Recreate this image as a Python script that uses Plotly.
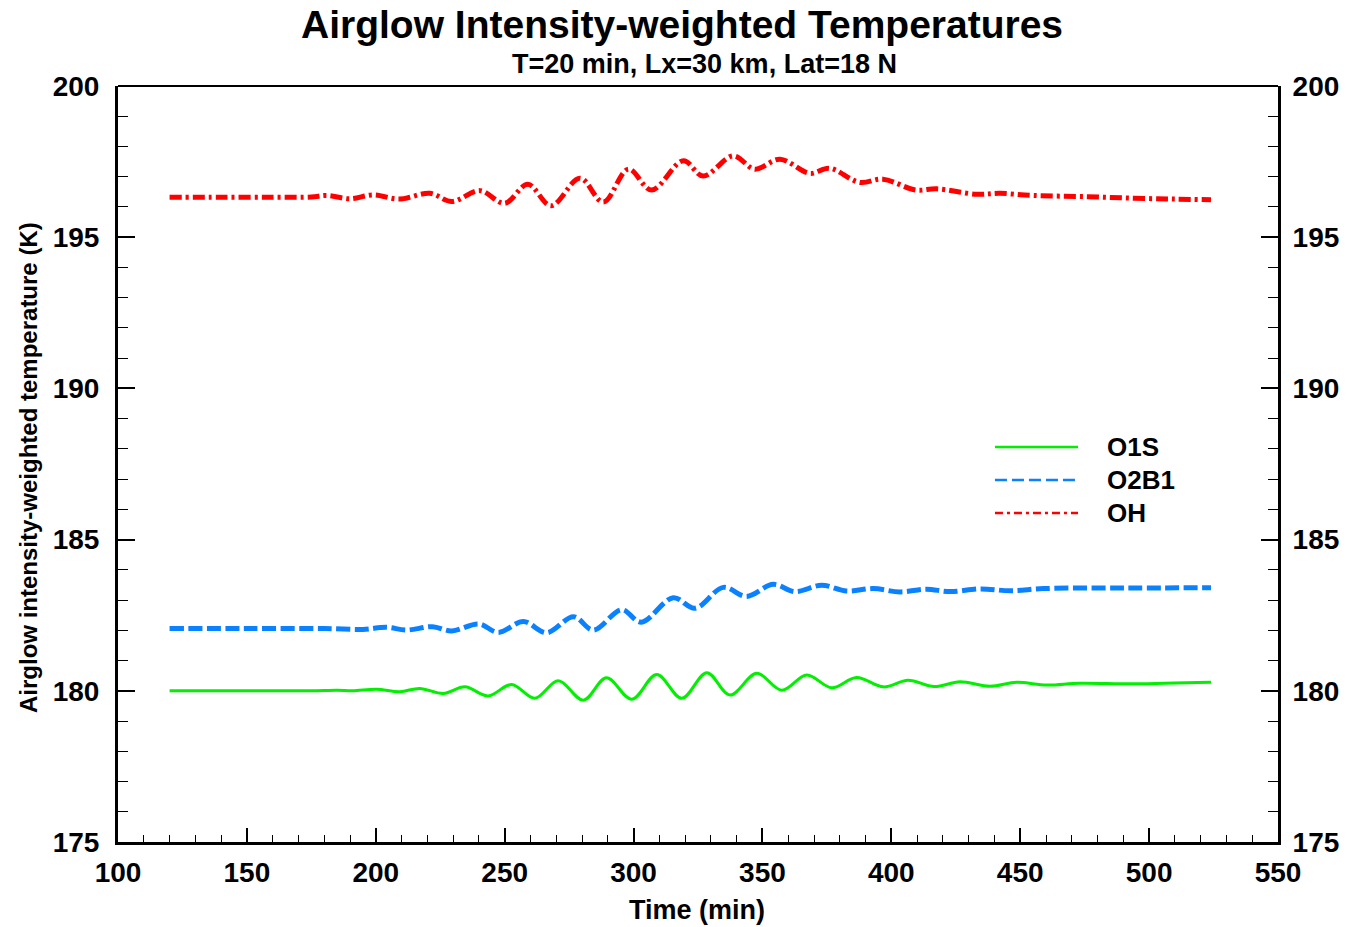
import plotly.graph_objects as go

# Time (min) and airglow intensity-weighted temperature (K) for each emission
t_o1s = [120, 150, 175, 185, 191, 200.3, 209.4, 217, 226.2, 234.6, 243.6, 252.7, 261.7,
         270.8, 280.5, 289.5, 299.3, 309, 318.7, 328.4, 337.4, 347.8, 357.5, 367.2,
         376.9, 386.5, 396.9, 406.5, 416.6, 426.6, 438.3, 448.6, 460.3, 473, 494, 524]
T_o1s = [180.0, 180.0, 180.0, 180.02, 180.0, 180.05, 179.97, 180.08, 179.91, 180.13,
         179.83, 180.21, 179.75, 180.33, 179.69, 180.43, 179.72, 180.54, 179.75, 180.60,
         179.86, 180.58, 180.02, 180.52, 180.10, 180.44, 180.13, 180.35, 180.14, 180.30,
         180.15, 180.28, 180.19, 180.25, 180.23, 180.28]

t_o2b1 = [120, 150, 180, 195, 204, 212, 222, 229.5, 240, 247.5, 257.3, 266.3, 276.7,
          284.4, 295.4, 303, 315.4, 323.8, 334.8, 343.8, 354.2, 362.6, 373, 382.6, 393,
          403.3, 413.6, 422.7, 434.5, 446, 459, 481, 500, 524]
T_o2b1 = [182.06, 182.06, 182.06, 182.03, 182.10, 182.01, 182.12, 181.98, 182.21, 181.93,
          182.29, 181.92, 182.45, 182.01, 182.68, 182.27, 183.08, 182.73, 183.42, 183.12,
          183.52, 183.28, 183.49, 183.30, 183.38, 183.27, 183.36, 183.28, 183.37, 183.31,
          183.38, 183.40, 183.40, 183.41]

t_oh = [120, 140, 160, 175, 181, 190, 199, 209, 221, 229.5, 240.4, 250, 259, 268, 279.2,
        288.3, 298, 307, 319.3, 327, 338.7, 347, 356.8, 368.4, 376, 387.8, 396.7, 409.5,
        417.6, 433, 442, 455, 476, 494, 510, 524]
T_oh = [196.32, 196.32, 196.32, 196.33, 196.38, 196.27, 196.40, 196.26, 196.45, 196.18,
        196.54, 196.12, 196.75, 196.04, 196.95, 196.16, 197.25, 196.56, 197.53, 197.02,
        197.69, 197.25, 197.58, 197.11, 197.28, 196.81, 196.92, 196.56, 196.60, 196.42,
        196.45, 196.38, 196.34, 196.29, 196.26, 196.24]

series_names = ["O1S", "O2B1", "OH"]
series_colors = ["#00F000", "#0A82FF", "#FF0000"]

x_ticks = [100, 150, 200, 250, 300, 350, 400, 450, 500, 550]
y_ticks = [175, 180, 185, 190, 195, 200]

FONT = "Liberation Sans"

fig = go.Figure()
fig.add_trace(go.Scatter(x=t_o1s, y=T_o1s, mode="lines", name=series_names[0],
                         line=dict(color=series_colors[0], width=3, shape="spline", smoothing=1)))
fig.add_trace(go.Scatter(x=t_o2b1, y=T_o2b1, mode="lines", name=series_names[1],
                         line=dict(color=series_colors[1], width=5, shape="spline", smoothing=1,
                                   dash="14px,4.5px")))
# OH is drawn against the right-hand axis, which shares the left axis' range
fig.add_trace(go.Scatter(x=t_oh, y=T_oh, mode="lines", name=series_names[2], yaxis="y2",
                         line=dict(color=series_colors[2], width=5, shape="spline", smoothing=1,
                                   dash="12px,4px,3px,4px")))

tickfont = dict(family=FONT, size=28, color="black", weight="bold")
yminor = dict(dtick=1, ticks="inside", ticklen=10, tickwidth=1.2, tickcolor="black",
              showgrid=False)

fig.update_layout(
    width=1347, height=927,
    margin=dict(l=118, r=69, t=86, b=85, autoexpand=False),
    paper_bgcolor="white", plot_bgcolor="white",
    showlegend=False,
    xaxis=dict(range=[100, 550], tickvals=x_ticks, ticks="inside", ticklen=14, tickwidth=1.5,
               tickcolor="black", showline=True, linewidth=3, linecolor="black",
               showgrid=False, zeroline=False, tickfont=tickfont, ticklabelstandoff=3,
               automargin=False,
               minor=dict(dtick=10, ticks="inside", ticklen=7, tickwidth=1.2, tickcolor="black",
                          showgrid=False)),
    yaxis=dict(range=[175, 200], tickvals=y_ticks, ticks="inside", ticklen=17, tickwidth=1.5,
               tickcolor="black", showline=True, linewidth=3, linecolor="black",
               showgrid=False, zeroline=False, tickfont=tickfont, ticklabelstandoff=10,
               automargin=False, minor=yminor),
    yaxis2=dict(range=[175, 200], matches="y", tickvals=y_ticks, overlaying="y", side="right",
                anchor="x", ticks="inside", ticklen=17, tickwidth=1.5, tickcolor="black",
                showline=True, linewidth=3, linecolor="black", showgrid=False, zeroline=False,
                tickfont=tickfont, ticklabelstandoff=6, automargin=False, minor=yminor),
)

# thin frame line along the top of the plot area
fig.add_shape(type="line", xref="paper", yref="paper", x0=0, x1=1, y0=1, y1=1,
              line=dict(color="black", width=2))

# titles
fig.add_annotation(text="Airglow Intensity-weighted Temperatures", xref="paper", yref="paper",
                   x=0.486, y=1.082, xanchor="center", yanchor="middle", showarrow=False,
                   font=dict(family=FONT, size=39, color="black", weight="bold"))
fig.add_annotation(text="T=20 min, Lx=30 km, Lat=18 N", xref="paper", yref="paper",
                   x=0.506, y=1.029, xanchor="center", yanchor="middle", showarrow=False,
                   font=dict(family=FONT, size=27, color="black", weight="bold"))
fig.add_annotation(text="Time (min)", xref="paper", yref="paper",
                   x=0.499, y=-0.090, xanchor="center", yanchor="middle", showarrow=False,
                   font=dict(family=FONT, size=27, color="black", weight="bold"))
fig.add_annotation(text="Airglow intensity-weighted temperature (K)", xref="paper", yref="paper",
                   x=-0.0776, y=0.496, xanchor="center", yanchor="middle", showarrow=False,
                   textangle=-90,
                   font=dict(family=FONT, size=24, color="black", weight="bold"))

# legend drawn inside the plot area
legend_y = [0.5225, 0.4788, 0.4352]
legend_dash = ["solid", "12px,5px", "8px,4px,3px,4px"]
for name, color, dash, ly in zip(series_names, series_colors, legend_dash, legend_y):
    fig.add_shape(type="line", xref="paper", yref="paper", x0=0.756, x1=0.8276, y0=ly, y1=ly,
                  line=dict(color=color, width=2.5, dash=dash))
    fig.add_annotation(text=name, xref="paper", yref="paper", x=0.851, y=ly,
                       xanchor="left", yanchor="middle", showarrow=False,
                       font=dict(family=FONT, size=26, color="black", weight="bold"))

fig.write_html("out.html")
